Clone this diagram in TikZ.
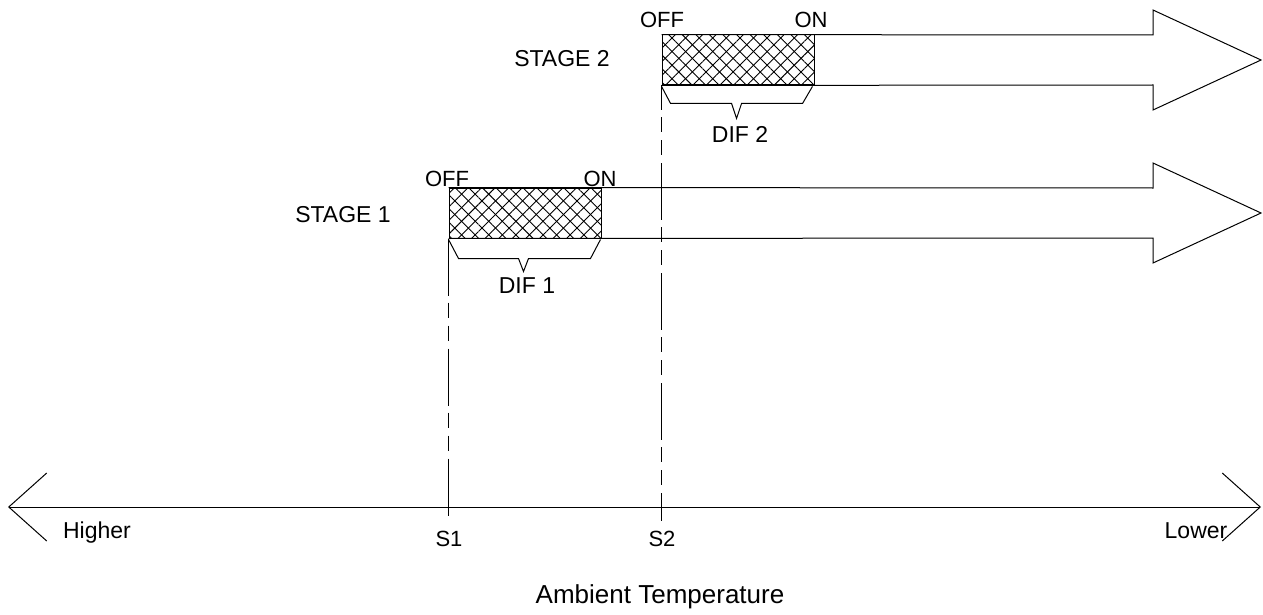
\documentclass[tikz,border=0pt]{standalone}
\usepackage{fontspec}
\setmainfont{Liberation Sans}
\usetikzlibrary{arrows.meta, positioning, patterns.meta}

\begin{document}
\begin{tikzpicture}[
  x=0.5pt, y=-0.5pt, line width=0.5pt,
  font=\fontsize{11.5}{13.8}\selectfont,
  hatchbox/.style={
    draw, inner sep=0pt, minimum width=76pt, minimum height=25pt,
    pattern={Lines[angle=45, distance=4.8pt, line width=0.45pt]},
    postaction={pattern={Lines[angle=-45, distance=4.8pt, line width=0.45pt]}}
  },
  lbl/.style={anchor=base, inner sep=0pt},
  tag/.style={lbl, font=\fontsize{11}{13.2}\selectfont},
  shaft/.style={draw, line join=miter},
  guide/.style={dash pattern=on 28.5pt off 3.5pt on 7.5pt off 4pt on 7.5pt off 4pt},
  axis/.style={{Straight Barb[length=19pt, width=34pt]}-{Straight Barb[length=19pt, width=34pt]}}
]
\useasboundingbox (0,0) rectangle (1263,615);

% Stage 2
\node[hatchbox] (box2) at (738,60) {};
\draw[shaft] (box2.north west) -- (1153,35) -- (1153,10) -- (1261,60)
  -- (1153,110) -- (1153,85) -- (box2.south west);
\node[tag] (off2) at (662,28) {OFF};
\node[tag] (on2) at (811,28) {ON};
\node[lbl] (stage2) at (562,67) {STAGE 2};
\draw ([yshift=-0.5pt]box2.south west) -- ++(9,17) -- ++(61,0) -- ++(5,15)
  -- ++(5,-15) -- ++(61,0) -- ([xshift=-1pt,yshift=-0.5pt]box2.south east);
\node[lbl] (dif2) at (740,142) {DIF 2};

% Stage 1
\node[hatchbox] (box1) at (525,213) {};
\draw[shaft] (box1.north west) -- (1153,188) -- (1153,163) -- (1261,213)
  -- (1153,263) -- (1153,238) -- (box1.south west);
\node[tag] (off1) at (447,186) {OFF};
\node[tag] (on1) at (600,186) {ON};
\node[lbl] (stage1) at (343,222) {STAGE 1};
\draw ([yshift=-0.5pt]box1.south west) -- ++(10,19) -- ++(60,0) -- ++(5,13)
  -- ++(5,-13) -- ++(62,0) -- ([xshift=-0.5pt,yshift=-0.5pt]box1.south east);
\node[lbl] (dif1) at (527,293) {DIF 1};

% Temperature axis
\coordinate (hi) at (8,507);
\coordinate (lo) at (1261,507);
\draw[axis] (hi) -- (lo);
\node[lbl] (higher) at (97,538) {Higher};
\node[lbl] (lower) at (1196,538) {Lower};
\node[tag] (s1) at (449,546) {S1};
\node[tag] (s2) at (662,546) {S2};
\node[lbl, font=\fontsize{13}{15.6}\selectfont] (amb) at (660,603) {Ambient Temperature};

% Set points
\draw[guide] (box1.south west) -- ([yshift=4.5pt]box1.south west |- s1.north);
\draw[guide, dash phase=16pt] (box2.south west) -- ([yshift=4.5pt]box2.south west |- s2.north);

\end{tikzpicture}
\end{document}
